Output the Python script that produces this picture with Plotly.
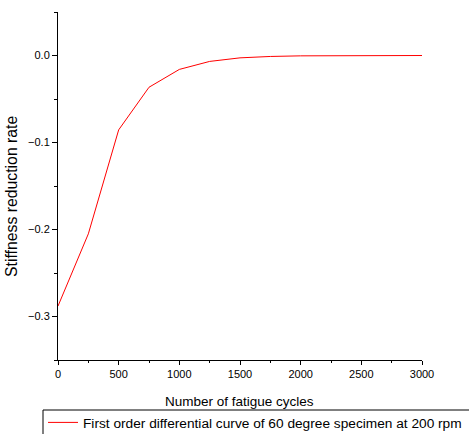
import plotly.graph_objects as go

cycles = [0, 250, 500, 750, 1000, 1250, 1500, 1750, 2000, 2250, 2500, 2750, 3000]
rate = [-0.288, -0.205, -0.0855, -0.0365, -0.016, -0.0068, -0.0027, -0.0011, -0.0004, -0.0002, -0.0001, 0.0, 0.0]
series_name = "First order differential curve of 60 degree specimen at 200 rpm"
x_title = "Number of fatigue cycles"
y_title = "Stiffness reduction rate"
x_ticks = [0, 500, 1000, 1500, 2000, 2500, 3000]
y_ticks = [0.0, -0.1, -0.2, -0.3]

fig = go.Figure()
fig.add_trace(go.Scatter(x=cycles, y=rate, mode="lines", name=series_name,
                         line=dict(color="#ff0000", width=1)))

font = "Liberation Sans, Arial, sans-serif"
fig.update_layout(
    width=469, height=434,
    margin=dict(l=58, r=47, t=12, b=74, autoexpand=False),
    paper_bgcolor="white", plot_bgcolor="white",
    font=dict(family=font, color="#000000", size=11),
    showlegend=True,
    legend=dict(xref="container", yref="container",
                x=43 / 469, xanchor="left", y=1 - 407 / 434, yanchor="top",
                bgcolor="rgba(0,0,0,0)", borderwidth=0,
                font=dict(size=13.7, family=font),
                itemwidth=30, tracegroupgap=0),
    xaxis=dict(range=[0, 3000], tickvals=x_ticks, ticks="outside", ticklen=4,
               tickwidth=1, tickcolor="#000", showline=True, linecolor="#000",
               linewidth=1, showgrid=False, zeroline=False,
               minor=dict(dtick=250, ticks="outside", ticklen=2, tickcolor="#000", showgrid=False)),
    yaxis=dict(range=[-0.35, 0.05], tickvals=y_ticks, tickformat=".1f", ticks="outside",
               ticklen=5, tickwidth=1, tickcolor="#000", showline=True, linecolor="#000",
               linewidth=1, showgrid=False, zeroline=False,
               minor=dict(dtick=0.05, ticks="outside", ticklen=3, tickcolor="#000", showgrid=False)),
    annotations=[
        dict(text=x_title, xref="paper", yref="paper", x=(239.5 - 58) / 364, y=(360 - 402) / 348,
             xanchor="center", yanchor="middle", showarrow=False, font=dict(size=13.5)),
        dict(text=y_title, xref="paper", yref="paper", x=(12 - 58) / 364, y=(360 - 197) / 348,
             xanchor="center", yanchor="middle", textangle=-90, showarrow=False,
             font=dict(size=15.8)),
    ],
)

# legend frame (extends past the right and bottom edges, as in the reference)
fig.add_shape(type="rect", xref="paper", yref="paper",
              x0=-0.0412, x1=1.2, y0=-0.3, y1=-0.1437,
              line=dict(color="#000", width=1), fillcolor="rgba(0,0,0,0)", layer="below")

fig.write_html("out.html")
